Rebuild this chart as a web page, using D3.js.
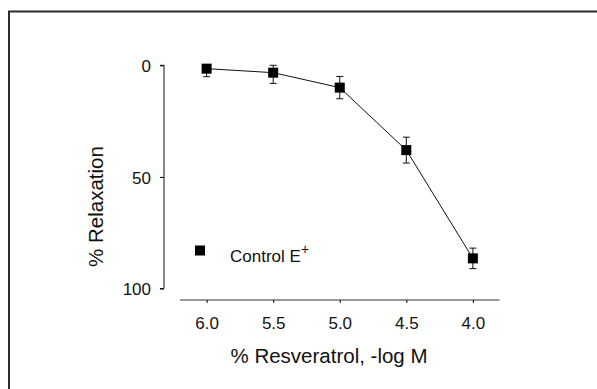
<!DOCTYPE html>
<html>
<head>
<meta charset="utf-8">
<script src="https://cdn.jsdelivr.net/npm/d3@7"></script>
<style>
  body { margin: 0; background: #fff; }
  svg text { font-family: "Liberation Sans", Arial, sans-serif; fill: #111; }
</style>
</head>
<body>
<div class="canvas"></div>
<script>
// data
const logDose = [6.0, 5.5, 5.0, 4.5, 4.0];
const relaxation = [1.5, 3.3, 10, 38, 86.5];
const sem = [3.6, 4.8, 5, 5.8, 4.6];
const xTicks = [6.0, 5.5, 5.0, 4.5, 4.0];
const yTicks = [0, 50, 100];
const seriesName = 'Control E';

const dims = {width: 597, height: 389};

const svg = d3.select('.canvas')
    .append('svg')
    .attr('width', dims.width)
    .attr('height', dims.height);

// outer frame (right and bottom fall off the picture)
svg.append('path')
    .attr('d', `M9,${dims.height} V11.5 H${dims.width}`)
    .attr('fill', 'none')
    .attr('stroke', '#2a2a2a')
    .attr('stroke-width', 2);

const x = d3.scaleLinear().domain([6.2, 3.8]).range([180, 499.5]);
const y = d3.scaleLinear().domain([0, 100]).range([65.3, 288.5]);

// y axis
const yAxis = svg.append('g')
    .attr('transform', 'translate(164,0)')
    .call(d3.axisLeft(y).tickValues(yTicks).tickSize(4).tickPadding(9).tickFormat(d3.format('d')));
yAxis.select('.domain').attr('d', `M-4,${y(0)}H0V${y(100)}H-4`).attr('stroke', '#111');
yAxis.selectAll('text').attr('font-size', 17).attr('dy', '0.36em');

// x axis
const xAxis = svg.append('g')
    .attr('transform', 'translate(0,300)')
    .call(d3.axisBottom(x).tickValues(xTicks).tickSize(3).tickPadding(14).tickFormat(d3.format('.1f')));
xAxis.select('.domain').attr('d', `M${x.range()[0]},0H${x.range()[1]}`)
    .attr('stroke', '#777').attr('stroke-width', 1.6);
xAxis.selectAll('text').attr('font-size', 17);

// axis titles
svg.append('text')
    .attr('x', 329).attr('y', 362.5)
    .attr('text-anchor', 'middle')
    .attr('font-size', 20.5)
    .text('% Resveratrol, -log M');

svg.append('text')
    .attr('transform', 'translate(103,206.5) rotate(-90)')
    .attr('text-anchor', 'middle')
    .attr('font-size', 20.5)
    .text('% Relaxation');

const points = logDose.map((d, i) => ({x: d, y: relaxation[i], e: sem[i]}));
// error bars stop at the top of the plot (0 %)
const lo = d => Math.max(0, d.y - d.e);
const hi = d => d.y + d.e;

// connecting line
svg.append('path')
    .datum(points)
    .attr('fill', 'none')
    .attr('stroke', '#111')
    .attr('stroke-width', 1)
    .attr('d', d3.line().x(d => x(d.x)).y(d => y(d.y)));

// error bars
const bars = svg.append('g').selectAll('g')
    .data(points)
    .enter().append('g')
    .attr('stroke', '#111')
    .attr('stroke-width', 1);
bars.append('line')
    .attr('x1', d => x(d.x)).attr('x2', d => x(d.x))
    .attr('y1', d => y(lo(d))).attr('y2', d => y(hi(d)));
bars.append('line')
    .attr('x1', d => x(d.x) - 3.5).attr('x2', d => x(d.x) + 3.5)
    .attr('y1', d => y(lo(d))).attr('y2', d => y(lo(d)));
bars.append('line')
    .attr('x1', d => x(d.x) - 3.5).attr('x2', d => x(d.x) + 3.5)
    .attr('y1', d => y(hi(d))).attr('y2', d => y(hi(d)));

// square markers
svg.append('g').selectAll('rect')
    .data(points)
    .enter().append('rect')
    .attr('x', d => x(d.x) - 5)
    .attr('y', d => y(d.y) - 5)
    .attr('width', 10)
    .attr('height', 10)
    .attr('fill', '#000');

// legend
const legend = svg.append('g');
legend.append('rect')
    .attr('x', 195).attr('y', 245.5)
    .attr('width', 10).attr('height', 10)
    .attr('fill', '#000');
const lt = legend.append('text')
    .attr('x', 230).attr('y', 261.5)
    .attr('font-size', 17)
    .text(seriesName);
lt.append('tspan')
    .attr('dy', -8)
    .attr('font-size', 14)
    .text('+');
</script>
</body>
</html>
